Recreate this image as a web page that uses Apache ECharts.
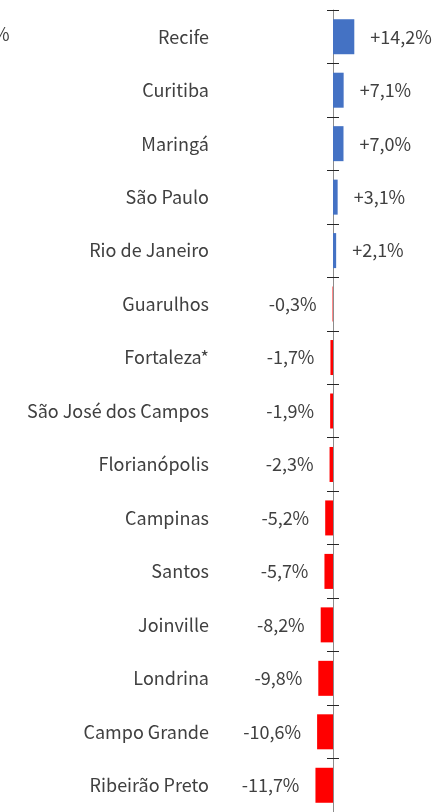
<!DOCTYPE html>
<html>
<head>
<meta charset="utf-8">
<script src="https://cdn.jsdelivr.net/npm/echarts@6/dist/echarts.min.js"></script>
<style>
  html, body { margin: 0; padding: 0; background: #fff; }
  #chart { width: 436px; height: 812px; }
</style>
</head>
<body>
<div id="chart"></div>
<script>
// 城市与变化率（%）
const cities = ['Recife', 'Curitiba', 'Maringá', 'São Paulo', 'Rio de Janeiro', 'Guarulhos',
  'Fortaleza*', 'São José dos Campos', 'Florianópolis', 'Campinas', 'Santos', 'Joinville',
  'Londrina', 'Campo Grande', 'Ribeirão Preto'];
const changes = [14.2, 7.1, 7.0, 3.1, 2.1, -0.3, -1.7, -1.9, -2.3, -5.2, -5.7, -8.2, -9.8, -10.6, -11.7];

const FONT = '"Noto Sans CJK JP", "Noto Sans", sans-serif';
const TEXT_COLOR = '#404040';

const chart = echarts.init(document.getElementById('chart'));

function fmt(v) {
  return (v > 0 ? '+' : '') + v.toFixed(1).replace('.', ',') + '%';
}

// 坐标轴共用设置
const catBase = {
  type: 'category',
  data: cities,
  inverse: true,
  position: 'left',
  splitLine: { show: false },
  axisLabel: { show: false }
};

chart.setOption({
  animation: false,
  grid: { left: 213, right: 13, top: 10, bottom: 0, containLabel: false },
  xAxis: {
    type: 'value',
    min: -80,
    max: 60,
    show: false
  },
  yAxis: [
    // 城市名称
    Object.assign({}, catBase, {
      axisLine: { show: false, onZero: false },
      axisTick: { show: false },
      axisLabel: {
        show: true,
        margin: 4,
        color: TEXT_COLOR,
        fontFamily: FONT,
        fontSize: 18,
        padding: [0, 0, 3, 0]
      }
    }),
    // 零线 + 左侧刻度
    Object.assign({}, catBase, {
      axisLine: { show: true, onZero: true, onZeroAxisIndex: 0, lineStyle: { color: '#8c8c8c', width: 1 } },
      axisTick: { show: true, inside: false, length: 6, lineStyle: { color: '#262626' } }
    }),
    // 右侧刻度
    Object.assign({}, catBase, {
      axisLine: { show: false, onZero: true, onZeroAxisIndex: 0 },
      axisTick: { show: true, inside: true, length: 6, lineStyle: { color: '#262626' } }
    })
  ],
  series: [{
    type: 'bar',
    yAxisIndex: 0,
    barWidth: 35,
    data: changes.map(v => ({
      value: v,
      itemStyle: { color: v >= 0 ? '#4472C4' : '#FF0000' }
    })),
    label: {
      show: true,
      position: 'outside',
      distance: 16,
      color: TEXT_COLOR,
      fontFamily: FONT,
      fontSize: 18,
      padding: [0, 0, 3, 0],
      formatter: p => fmt(p.value)
    }
  }],
  graphic: [{
    type: 'text',
    left: -7,
    top: 25,
    style: { text: '%', fill: TEXT_COLOR, font: '18px ' + FONT }
  }]
});
</script>
</body>
</html>
